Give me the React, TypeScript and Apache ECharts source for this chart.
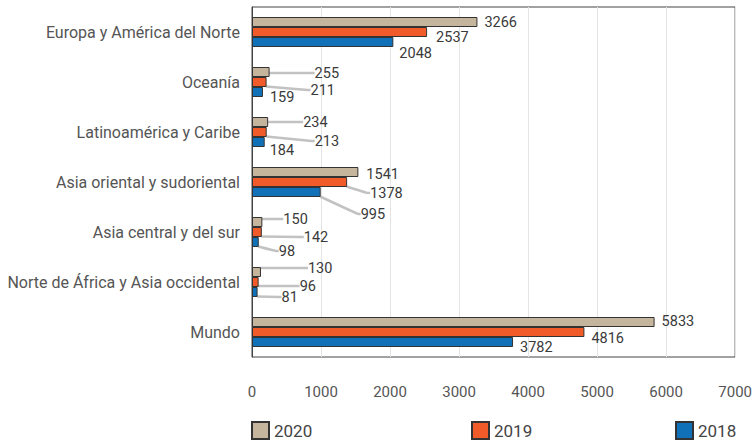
import React, { useEffect, useRef } from "react";
import * as echarts from "echarts";

const categories = [
  "Europa y América del Norte",
  "Oceanía",
  "Latinoamérica y Caribe",
  "Asia oriental y sudoriental",
  "Asia central y del sur",
  "Norte de África y Asia occidental",
  "Mundo",
];
const years = ["2020", "2019", "2018"];
const values2020 = [3266, 255, 234, 1541, 150, 130, 5833];
const values2019 = [2537, 211, 213, 1378, 142, 96, 4816];
const values2018 = [2048, 159, 184, 995, 98, 81, 3782];
const xTicks = [0, 1000, 2000, 3000, 4000, 5000, 6000, 7000];

// label nudges (style only): [dx, dy] per series per category
const labelNudge2020 = [[2, 0], [40, 1], [30, 0], [3, 2], [16, -3], [42, -4], [2, -1]];
const labelNudge2019 = [[4, 5], [39, 8], [43, 9], [18, 11], [37, 5], [36, 4], [2, 6]];
const labelNudge2018 = [[1, 11], [2, 5], [0, 8], [35, 22], [15, 9], [19, 5], [2, 5]];

const colors = ["#c5b59d", "#f15a29", "#1071b9"];

export default function App() {
  const ref = useRef<HTMLDivElement>(null);
  useEffect(() => {
    if (!ref.current) return;
    const chart = echarts.init(ref.current, undefined, { renderer: "svg" });
    const seriesValues = [values2020, values2019, values2018];
    const nudges = [labelNudge2020, labelNudge2019, labelNudge2018];
    const font = "Roboto";
    const series = years.map((y, si) => ({
      name: y,
      type: "bar",
      barCategoryGap: "40%",
      barGap: "0%",
      itemStyle: { color: colors[si], borderColor: "#333", borderWidth: 1 },
      data: seriesValues[si].map((v, ci) => ({
        value: v,
        labelLine: { show: nudges[si][ci][0] > 10 },
      })),
      label: {
        show: true,
        position: "right",
        distance: 5,
        color: "#3a3a3a",
        fontSize: 14.5,
        fontFamily: font,
      },
      labelLine: {
        show: true,
        smooth: 0.3,
        length2: 3,
        lineStyle: { color: "#c2c2c2", width: 2.5 },
      },
      labelLayout: (p: any) => {
        const n = nudges[p.seriesIndex][p.dataIndex];
        return { dx: n[0], dy: n[1] };
      },
    }));
    chart.setOption({
      animation: false,
      textStyle: { fontFamily: font },
      grid: {
        left: 252,
        top: 7,
        right: 19,
        bottom: 85,
        show: true,
        borderColor: "#444",
        borderWidth: 1,
        backgroundColor: "transparent",
      },
      legend: [0, 1, 2].map((i) => ({
        data: [years[i]],
        left: [251, 471, 675][i],
        top: 421,
        padding: 0,
        itemWidth: 17,
        itemHeight: 17,
        itemGap: 8,
        icon: "rect",
        textStyle: { fontSize: 17, color: "#444", fontFamily: font },
        selectedMode: false,
      })),
      xAxis: {
        type: "value",
        min: xTicks[0],
        max: xTicks[xTicks.length - 1],
        interval: 1000,
        axisLine: { show: false },
        axisTick: { show: false },
        splitLine: { show: true, lineStyle: { color: "#e4e4e4", width: 1 } },
        axisLabel: {
          color: "#555",
          fontSize: 15,
          margin: 27,
          fontFamily: font,
          formatter: (v: number) => String(v),
        },
      },
      yAxis: {
        type: "category",
        data: categories,
        inverse: true,
        axisLine: { show: true, lineStyle: { color: "#444" } },
        axisTick: { show: false },
        axisLabel: { color: "#555", fontSize: 16, margin: 12, fontFamily: font },
      },
      series,
    });
    return () => chart.dispose();
  }, []);
  return <div ref={ref} style={{ width: 755, height: 442, position: "absolute", left: 0, top: 0 }} />;
}
